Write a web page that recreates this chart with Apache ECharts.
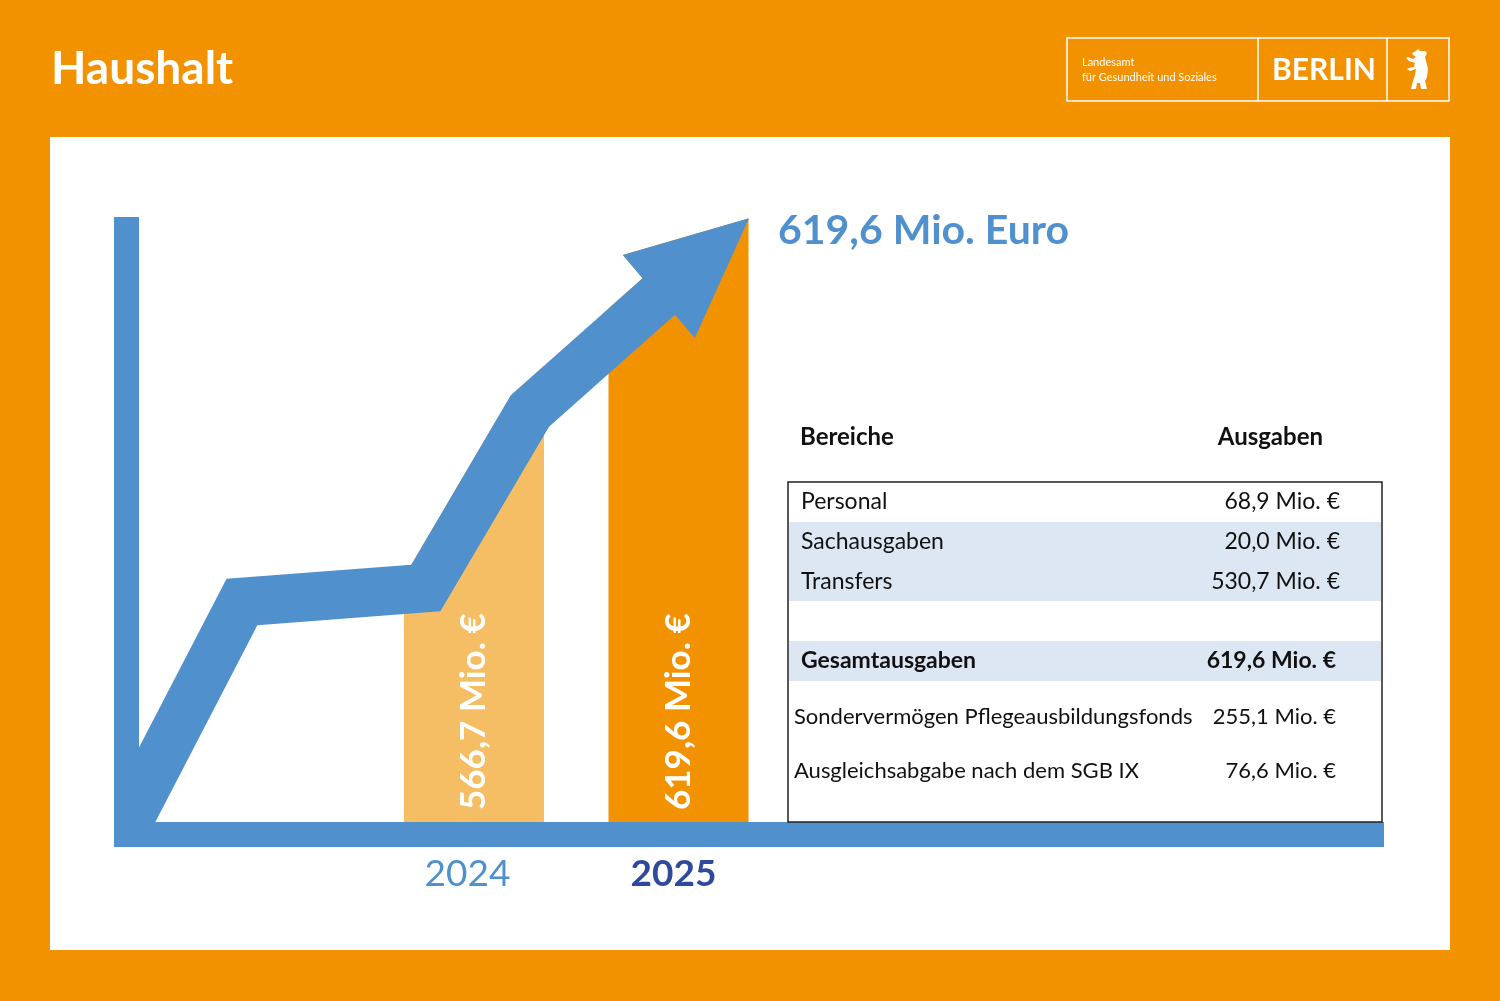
<!DOCTYPE html>
<html>
<head>
<meta charset="utf-8">
<title>Haushalt</title>
<script src="https://cdn.jsdelivr.net/npm/echarts@6/dist/echarts.min.js"></script>
<style>
  html, body { margin: 0; padding: 0; background: #F39200; }
  #main { width: 1500px; height: 1001px; }
</style>
</head>
<body>
<div id="main"></div>
<script>
// bars
const years = ['2024', '2025'];
const budget = [566.7, 619.6];
// schematic growth arrow: x in % of the axis length, y in Mio. €
const arrowX = [-1.3, 8.27, 23.04, 31.4, 41.75, 49.0];
const arrowY = [-10, 225.8, 240.2, 421.9, 539.4, 619.6];
// table
const areas = ['Personal', 'Sachausgaben', 'Transfers'];
const areaValues = [68.9, 20.0, 530.7];
const totalLabel = 'Gesamtausgaben';
const funds = ['Sondervermögen Pflegeausbildungsfonds', 'Ausgleichsabgabe nach dem SGB IX'];
const fundValues = [255.1, 76.6];

const Y_MAX = 621;
const BLUE = '#4F90CD';
const FONT = 'Lato, "Open Sans", sans-serif';

function fmt(v) {
  return v.toFixed(1).replace('.', ',') + ' Mio. €';
}

let myChart = echarts.init(document.getElementById('main'));

// arrow outline (thick polyline + head), plus white mask above it
function renderArrow(params, api) {
  const pts = arrowX.map((x, i) => api.coord([x, arrowY[i]]));
  const h = 24.4, H = 55;
  const tip = pts[pts.length - 1];
  const shaft = pts.slice(0, pts.length - 1);
  const norms = [];
  for (let i = 0; i < shaft.length - 1; i++) {
    const dx = shaft[i + 1][0] - shaft[i][0], dy = shaft[i + 1][1] - shaft[i][1];
    const l = Math.hypot(dx, dy);
    norms.push([dy / l, -dx / l]);
  }
  function offset(s) {
    const out = [];
    for (let i = 0; i < shaft.length; i++) {
      let n;
      if (i === 0) n = [norms[0][0] * s, norms[0][1] * s];
      else if (i === shaft.length - 1) n = [norms[i - 1][0] * s, norms[i - 1][1] * s];
      else {
        const a = norms[i - 1], b = norms[i];
        const k = s / (1 + a[0] * b[0] + a[1] * b[1]);
        n = [(a[0] + b[0]) * k, (a[1] + b[1]) * k];
      }
      out.push([shaft[i][0] + n[0], shaft[i][1] + n[1]]);
    }
    return out;
  }
  const upper = offset(h), lower = offset(-h);
  const base = shaft[shaft.length - 1];
  const hx = tip[0] - base[0], hy = tip[1] - base[1], hl = Math.hypot(hx, hy);
  const nh = [hy / hl, -hx / hl];
  const barbUp = [base[0] + nh[0] * H, base[1] + nh[1] * H];
  const barbLow = [base[0] - nh[0] * H, base[1] - nh[1] * H];
  const top = api.coord([0, Y_MAX])[1] - 10;

  const outline = upper.concat([barbUp, tip, barbLow], lower.slice().reverse());
  const mask = upper.concat([barbUp, tip, [tip[0], top], [upper[0][0], top]]);
  return {
    type: 'group',
    children: [
      { type: 'polygon', z2: 1, shape: { points: mask }, style: { fill: '#ffffff' } },
      { type: 'polygon', z2: 2, shape: { points: outline }, style: { fill: BLUE } }
    ]
  };
}

// thick L-shaped axis
function renderAxes(params, api) {
  const t = api.coord([0, Y_MAX]), o = api.coord([0, 0]), r = api.coord([100, 0]);
  const w = 25;
  return {
    type: 'polyline',
    shape: { points: [[o[0] - w / 2, t[1]], [o[0] - w / 2, o[1] + w / 2], [r[0], o[1] + w / 2]] },
    style: { stroke: BLUE, lineWidth: w, fill: null, lineJoin: 'miter', lineCap: 'butt' }
  };
}

// table graphics
const tbl = [];
const rowH = 40, boxX = 788, boxY = 482, boxW = 594;
tbl.push({ type: 'text', x: 800, y: 437, style: { text: 'Bereiche', fontSize: 24, fontWeight: 'bold', fontFamily: FONT, fill: '#111', align: 'left', verticalAlign: 'middle' } });
tbl.push({ type: 'text', x: 1323, y: 437, style: { text: 'Ausgaben', fontSize: 24, fontWeight: 'bold', fontFamily: FONT, fill: '#111', align: 'right', verticalAlign: 'middle' } });
tbl.push({ type: 'rect', shape: { x: boxX + 1, y: boxY + rowH, width: boxW - 2, height: rowH * 2 - 1 }, style: { fill: '#DCE7F3' } });
tbl.push({ type: 'rect', shape: { x: boxX + 1, y: boxY + rowH * 4 - 1, width: boxW - 2, height: rowH }, style: { fill: '#DCE7F3' } });
areas.forEach((name, i) => {
  const y = boxY + rowH / 2 + rowH * i;
  tbl.push({ type: 'text', x: 801, y: y, style: { text: name, fontSize: 23, fontFamily: FONT, fill: '#111', align: 'left', verticalAlign: 'middle' } });
  tbl.push({ type: 'text', x: 1340, y: y, style: { text: fmt(areaValues[i]), fontSize: 23, fontFamily: FONT, fill: '#111', align: 'right', verticalAlign: 'middle' } });
});
const total = areaValues.reduce((a, b) => a + b, 0);
tbl.push({ type: 'text', x: 801, y: boxY + rowH * 4.5 - 1, style: { text: totalLabel, fontSize: 23, fontWeight: 'bold', fontFamily: FONT, fill: '#111', align: 'left', verticalAlign: 'middle' } });
tbl.push({ type: 'text', x: 1336, y: boxY + rowH * 4.5 - 1, style: { text: fmt(total), fontSize: 23, fontWeight: 'bold', fontFamily: FONT, fill: '#111', align: 'right', verticalAlign: 'middle' } });
funds.forEach((name, i) => {
  const y = 717 + 54 * i;
  tbl.push({ type: 'text', x: 794, y: y, style: { text: name, fontSize: 22, fontFamily: FONT, fill: '#111', align: 'left', verticalAlign: 'middle' } });
  tbl.push({ type: 'text', x: 1336, y: y, style: { text: fmt(fundValues[i]), fontSize: 22, fontFamily: FONT, fill: '#111', align: 'right', verticalAlign: 'middle' } });
});
tbl.push({ type: 'rect', shape: { x: boxX, y: boxY, width: boxW, height: 340 }, style: { fill: null, stroke: '#222', lineWidth: 1.5 } });
tbl.forEach(e => { e.z = 10; });

// logo block
const bear = [[11,2],[13,0],[15,2],[20,2],[22,4],[20,8],[21,12],[23,20],[22,28],[20,32],[22,40],[16,40],[15,34],[12,34],[11,40],[6,40],[8,32],[10,26],[11,20],[5,22],[2,20],[4,19],[9,18],[10,14],[4,12],[1,9],[3,8],[8,10],[11,8],[8,6],[7,4]];
const logo = [
  { type: 'rect', shape: { x: 1067, y: 38, width: 382, height: 63 }, style: { fill: null, stroke: '#fff', lineWidth: 1.5 } },
  { type: 'line', shape: { x1: 1258, y1: 38, x2: 1258, y2: 101 }, style: { stroke: '#fff', lineWidth: 1.5 } },
  { type: 'line', shape: { x1: 1387, y1: 38, x2: 1387, y2: 101 }, style: { stroke: '#fff', lineWidth: 1.5 } },
  { type: 'text', x: 1082, y: 62, style: { text: 'Landesamt', fontSize: 11, fontFamily: FONT, fill: '#fff', align: 'left', verticalAlign: 'middle' } },
  { type: 'text', x: 1082, y: 77, style: { text: 'für Gesundheit und Soziales', fontSize: 11, fontFamily: FONT, fill: '#fff', align: 'left', verticalAlign: 'middle' } },
  { type: 'text', x: 1272, y: 70, style: { text: 'BERLIN', fontSize: 30, fontWeight: 'bold', fontFamily: FONT, fill: '#fff', align: 'left', verticalAlign: 'middle' } },
  { type: 'polygon', x: 1405, y: 49, shape: { points: bear }, style: { fill: '#fff' } }
];

const option = {
  backgroundColor: '#F39200',
  animation: false,
  title: [
    { text: 'Haushalt', left: 51, top: 46, padding: 0, textStyle: { color: '#fff', fontSize: 46, fontWeight: 'bold', fontFamily: FONT } },
    { text: fmt(budget[1]).replace('€', 'Euro'), left: 778, top: 210, padding: 0, textStyle: { color: BLUE, fontSize: 41, fontWeight: 'bold', fontFamily: FONT } }
  ],
  graphic: [
    { type: 'rect', z: -10, shape: { x: 50, y: 137, width: 1400, height: 813 }, style: { fill: '#fff' } }
  ].concat(tbl, logo),
  grid: [
    { left: 139, right: 116, top: 217, bottom: 179, outerBoundsMode: 'none' },
    { left: 371.75, right: 719.25, top: 217, bottom: 179, outerBoundsMode: 'none' }
  ],
  xAxis: [
    { type: 'value', gridIndex: 0, min: 0, max: 100, show: false },
    {
      type: 'category', gridIndex: 1, data: years, z: 5,
      axisLine: { show: false }, axisTick: { show: false }, splitLine: { show: false },
      axisLabel: {
        margin: 34,
        formatter: (v, i) => (i === years.length - 1 ? '{cur|' : '{prev|') + v + '}',
        rich: {
          prev: { fontSize: 37, color: BLUE, fontFamily: FONT, padding: [0, 13, 0, 0] },
          cur: { fontSize: 37, fontWeight: 'bold', color: '#2F4A9C', fontFamily: FONT, padding: [0, 10, 0, 0] }
        }
      }
    }
  ],
  yAxis: [
    { type: 'value', gridIndex: 0, min: 0, max: Y_MAX, show: false },
    { type: 'value', gridIndex: 1, min: 0, max: Y_MAX, show: false }
  ],
  series: [
    {
      type: 'bar', xAxisIndex: 1, yAxisIndex: 1, z: 2, barWidth: 140,
      data: budget.map((v, i) => ({ value: v, itemStyle: { color: i === 0 ? '#F6BE64' : '#F39200' } })),
      label: {
        show: true, position: 'insideBottom', rotate: 90, align: 'left', verticalAlign: 'middle', distance: 12,
        formatter: p => fmt(p.value), color: '#fff', fontSize: 35, fontWeight: 'bold', fontFamily: FONT
      },
      silent: true
    },
    { type: 'custom', xAxisIndex: 0, yAxisIndex: 0, z: 4, clip: true, silent: true, data: [[0, 0]], renderItem: renderArrow },
    { type: 'custom', xAxisIndex: 0, yAxisIndex: 0, z: 6, clip: false, silent: true, data: [[0, 0]], renderItem: renderAxes }
  ]
};

myChart.setOption(option);
</script>
</body>
</html>
